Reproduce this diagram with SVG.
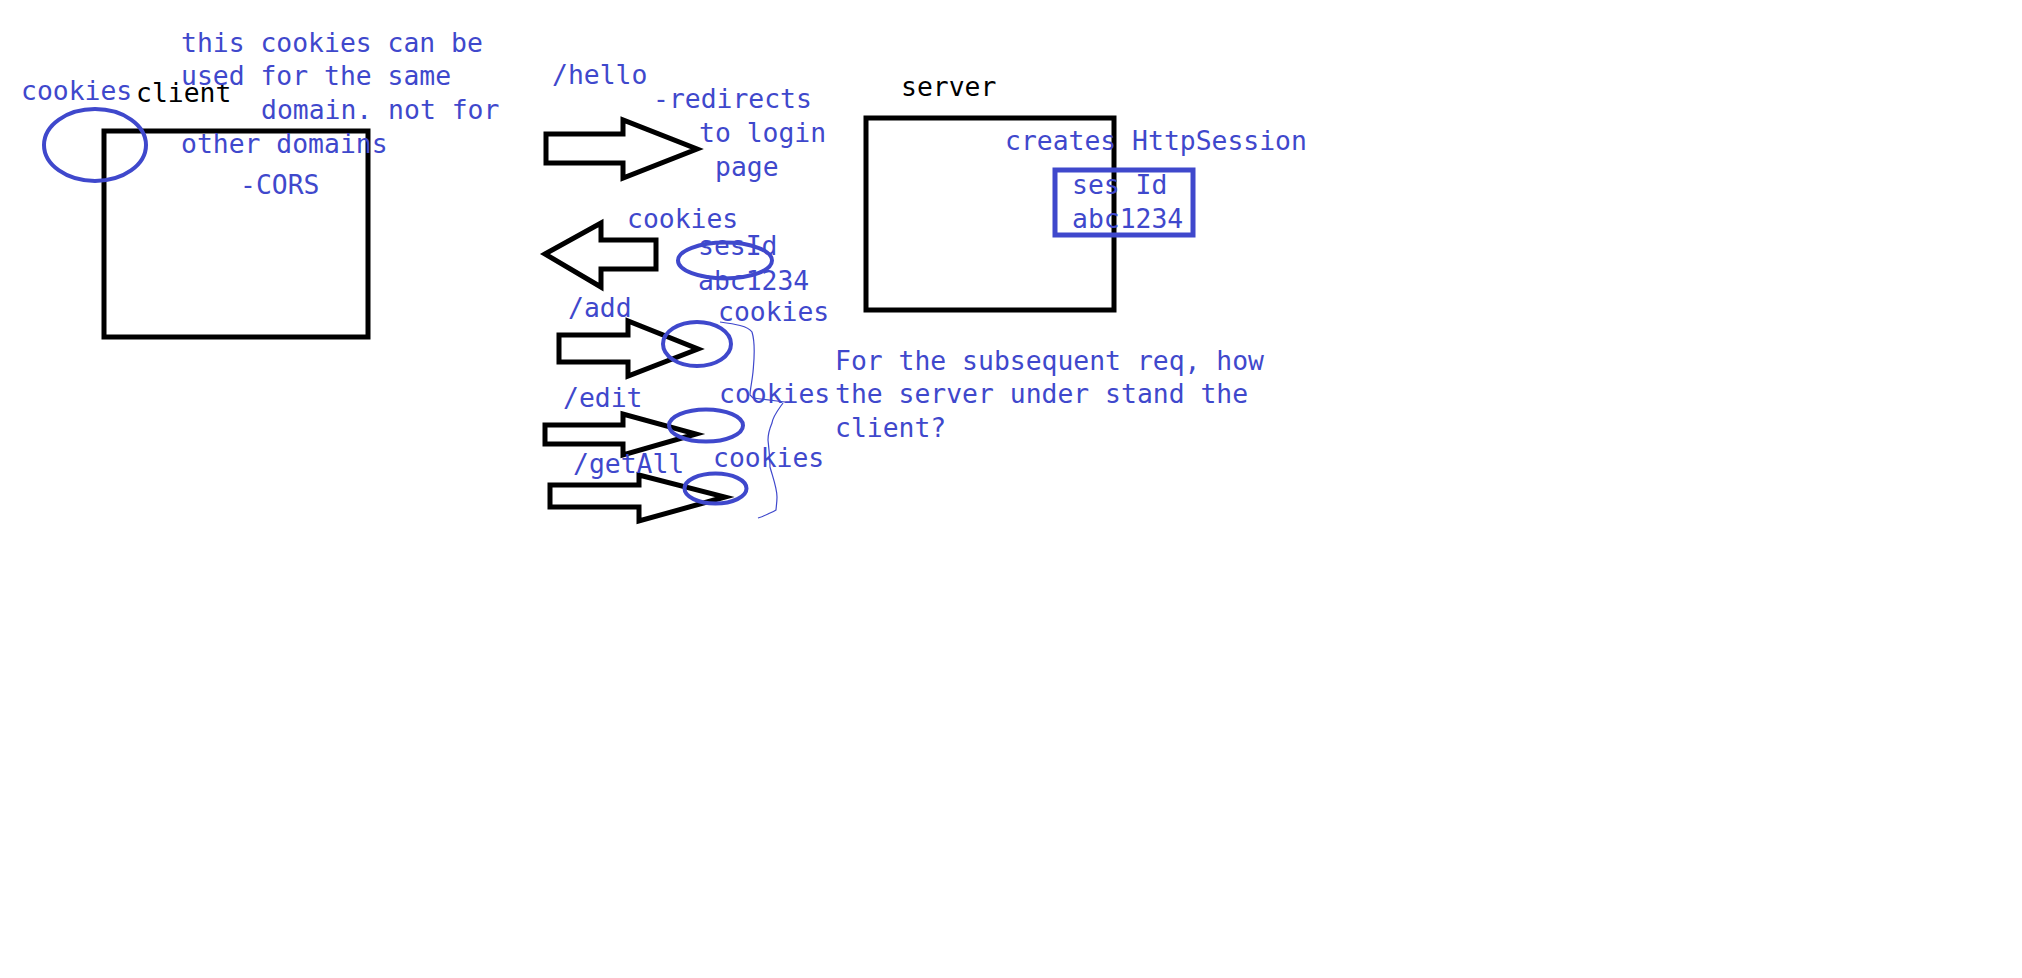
<svg xmlns="http://www.w3.org/2000/svg" width="2022" height="978" viewBox="0 0 2022 978">
<style>
  .t { font-family: "DejaVu Sans Mono", "Liberation Mono", monospace; font-size: 26.4px; fill: #3F48CC; }
  .k { fill: #000000; }
  .box { fill: none; stroke: #000000; stroke-width: 5; }
  .arrow { fill: none; stroke: #000000; stroke-width: 5; stroke-linejoin: miter; stroke-miterlimit: 10; }
  .oval { fill: none; stroke: #3F48CC; stroke-width: 4; }
  .brace { fill: none; stroke: #3F48CC; stroke-width: 1.2; }
</style>
<rect x="0" y="0" width="2022" height="978" fill="#FFFFFF"/>

<g id="client">
  <rect class="box" x="104" y="131" width="264" height="206"/>
  <text class="t k" x="136" y="102">client</text>
</g>

<g id="client-cookies">
  <ellipse class="oval" cx="95" cy="145" rx="51" ry="36"/>
  <text class="t" x="21" y="100">cookies</text>
</g>

<g id="cookie-note">
  <text class="t" x="181" y="52">this cookies can be</text>
  <text class="t" x="181" y="85">used for the same</text>
  <text class="t" x="261" y="119">domain. not for</text>
  <text class="t" x="181" y="153">other domains</text>
  <text class="t" x="240" y="194">-CORS</text>
</g>

<g id="server">
  <rect class="box" x="866" y="118" width="248" height="192"/>
  <text class="t k" x="901" y="96">server</text>
  <text class="t" x="1005" y="150">creates HttpSession</text>
</g>

<g id="session-box">
  <rect x="1055" y="170" width="138" height="65" fill="none" stroke="#3F48CC" stroke-width="5"/>
  <text class="t" x="1072" y="194">ses Id</text>
  <text class="t" x="1072" y="228">abc1234</text>
</g>

<g id="connectors">
  <polygon class="arrow" points="546,134 623,134 623,120 697,149 623,178 623,163 546,163"/>
  <polygon class="arrow" points="545,254 601,223 601,240 656,240 656,269 601,269 601,287"/>
  <polygon class="arrow" points="559,335 628,335 628,321 698,349 628,376 628,362 559,362"/>
  <polygon class="arrow" points="545,425 623,425 623,414 696,434 623,455 623,444 545,444"/>
  <polygon class="arrow" points="550,485 639,485 639,475 725,497 639,521 639,507 550,507"/>
</g>

<g id="hello-label">
  <text class="t" x="552" y="84">/hello</text>
  <text class="t" x="653" y="108">-redirects</text>
  <text class="t" x="699" y="142">to login</text>
  <text class="t" x="715" y="176">page</text>
</g>

<g id="response-cookie">
  <text class="t" x="627" y="228">cookies</text>
  <ellipse class="oval" cx="725" cy="260.5" rx="47" ry="18"/>
  <text class="t" x="698" y="255">sesId</text>
  <text class="t" x="698" y="290">abc1234</text>
</g>

<g id="add-request">
  <text class="t" x="568" y="317">/add</text>
  <ellipse class="oval" cx="697" cy="344" rx="34" ry="22"/>
  <text class="t" x="718" y="321">cookies</text>
</g>

<g id="edit-request">
  <text class="t" x="563" y="407">/edit</text>
  <ellipse class="oval" cx="706" cy="425.5" rx="37" ry="16"/>
  <text class="t" x="719" y="403">cookies</text>
</g>

<g id="getall-request">
  <text class="t" x="573" y="473">/getAll</text>
  <ellipse class="oval" cx="715.5" cy="488.5" rx="31" ry="15"/>
  <text class="t" x="713" y="467">cookies</text>
</g>

<g id="braces">
  <path class="brace" d="M720,322 C735,324 748,326 752,332 C756,345 754,360 753,372 C752,382 750,390 750,395 L753,398 L785,402"/>
  <path class="brace" d="M783,403 C778,410 773,416 772,423 C769,430 768,434 768,440 C769,450 770,458 770,467 C773,478 777,488 777,497 C777,503 776,508 776,510 C773,512 770,513 768,514 C764,516 761,517 758,518"/>
</g>

<g id="question">
  <text class="t" x="835" y="370">For the subsequent req, how</text>
  <text class="t" x="835" y="403">the server under stand the</text>
  <text class="t" x="835" y="437">client?</text>
</g>
</svg>
